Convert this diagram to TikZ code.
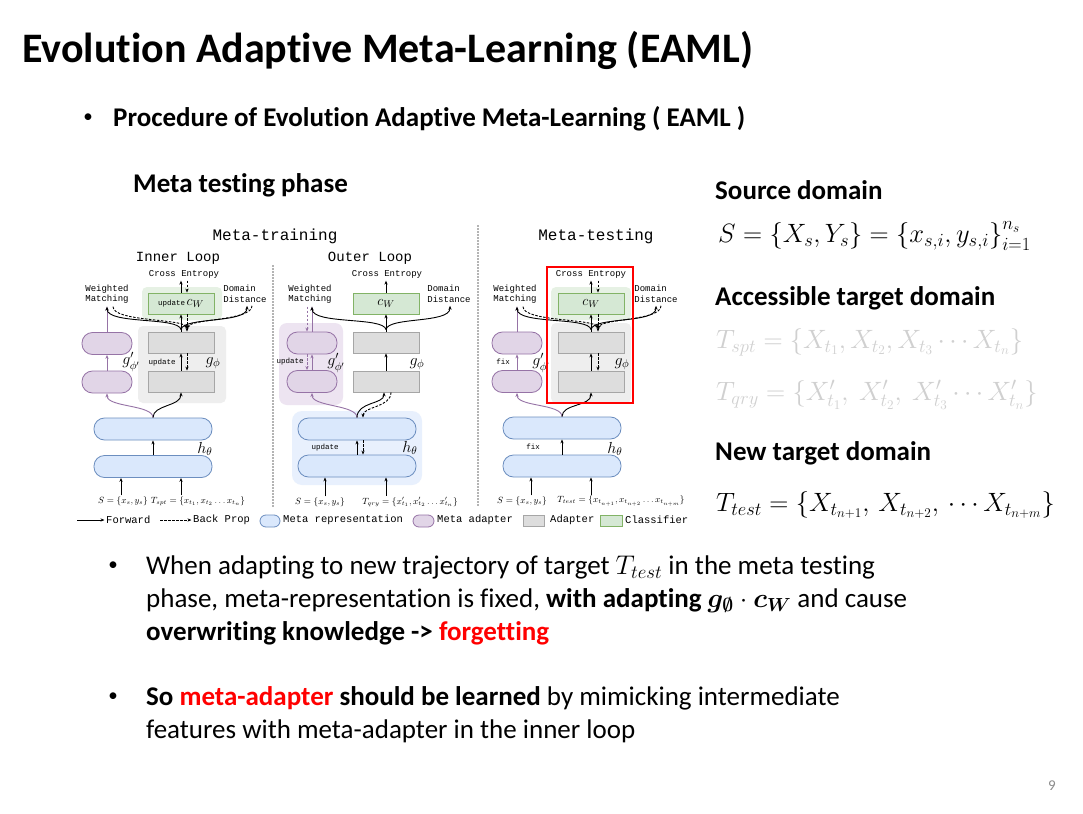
\RequirePackage{fix-cm}
\documentclass[tikz,border=0pt]{standalone}
\usepackage{amsmath,bm}
\usepackage{fontspec}
\setmainfont{Carlito}[Ligatures=NoCommon]
\newfontfamily\monof{Liberation Mono}
\usetikzlibrary{arrows.meta}
\definecolor{blueF}{HTML}{DAE8FC}
\definecolor{blueD}{HTML}{6C8EBF}
\definecolor{purpF}{HTML}{E1D5E7}
\definecolor{purpD}{HTML}{9673A6}
\definecolor{grayF}{HTML}{DDDDDD}
\definecolor{grayD}{HTML}{A6A6A6}
\definecolor{greenF}{HTML}{D5E8D4}
\definecolor{greenD}{HTML}{82B366}
\definecolor{bgGray}{HTML}{EEEEEE}
\definecolor{bgGreen}{HTML}{E6F1E4}
\definecolor{bgPurp}{HTML}{EDE4F1}
\definecolor{bgBlue}{HTML}{E8F0FD}
\definecolor{lightT}{HTML}{D0D0D0}
\definecolor{sepC}{HTML}{B4B4B4}
\definecolor{pnum}{HTML}{8C8C8C}
\tikzset{
  pill/.style={rectangle, rounded corners=10.5pt, minimum height=22pt, inner sep=0pt, line width=0.8pt},
  bluepill/.style={pill, fill=blueF, draw=blueD, minimum width=118pt},
  purppill/.style={pill, fill=purpF, draw=purpD, minimum width=50pt},
  adbox/.style={rectangle, fill=grayF, draw=grayD, line width=0.8pt, minimum width=66pt, minimum height=21pt, inner sep=0pt},
  clbox/.style={adbox, fill=greenF, draw=greenD},
  fwd/.style={-{Stealth[length=4pt,width=3.2pt]}, line width=0.9pt},
  bwd/.style={fwd, dash pattern=on 2.5pt off 1.5pt},
  pfwd/.style={fwd, draw=purpD},
  pbwd/.style={bwd, draw=purpD},
  mono/.style={font=\monof\fontsize{9}{10.5}\selectfont, inner sep=0pt, align=left},
  monos/.style={font=\monof\fontsize{7.5}{9}\selectfont, inner sep=0pt},
  monoL/.style={font=\monof\fontsize{16}{18}\selectfont, inner sep=0pt},
  loopT/.style={font=\monof\fontsize{14}{16}\selectfont, inner sep=0pt},
  legend/.style={font=\monof\fontsize{10.5}{12}\selectfont, inner sep=0pt, anchor=west},
  glab/.style={font=\fontsize{16}{18}\selectfont, inner sep=0pt},
  inlab/.style={font=\fontsize{9}{11}\selectfont, inner sep=0pt},
  body/.style={font=\fontsize{27}{32}\selectfont, inner sep=0pt, anchor=base west},
  bodyb/.style={font=\bfseries\fontsize{27}{32}\selectfont, inner sep=0pt, anchor=base west},
  bul/.style={font=\fontsize{19}{22}\selectfont, inner sep=0pt},
  rmath/.style={font=\fontsize{26.5}{30}\selectfont, inner sep=0pt, anchor=west},
  sep/.style={draw=sepC, line width=1.5pt, dash pattern=on 1.5pt off 1.5pt},
}
\begin{document}
\begin{tikzpicture}[x=1pt,y=-1pt]
\useasboundingbox (0,0) rectangle (1083,813);
\fill[white] (0,0) rectangle (1083,813);

% ---------- slide text ----------
\node[font=\bfseries\fontsize{42}{48}\selectfont, inner sep=0pt, anchor=base west] (title) at (22,63) {Evolution Adaptive Meta-Learning (EAML)};
\node[bul] (b0) at (88,118) {•};
\node[bodyb] (proc) at (113,127) {Procedure of Evolution Adaptive Meta-Learning ( EAML )};
\node[bodyb] (mtp) at (133,193) {Meta testing phase};

\node[bodyb] (src) at (715,200) {Source domain};
\node[rmath] (smath) at (718,236) {$S=\{X_s,Y_s\}=\left\{x_{s,i},y_{s,i}\right\}_{i=1}^{n_s}$};
\node[bodyb] (acc) at (715,305) {Accessible target domain};
\node[rmath, text=lightT] (tspt) at (716,342) {$T_{spt}=\{X_{t_1},X_{t_2},X_{t_3}\cdots X_{t_n}\}$};
\node[rmath, text=lightT] (tqry) at (716,395) {$T_{qry}=\{X'_{t_1},\ X'_{t_2},\ X'_{t_3}\cdots X'_{t_n}\}$};
\node[bodyb] (newt) at (715,460) {New target domain};
\node[rmath] (ttest) at (716,505) {$T_{test}=\{X_{t_{n+1}},\,X_{t_{n+2}},\,\cdots X_{t_{n+m}}\}$};

\node[bul] (b1) at (113,566) {•};
\node[body] (l1) at (146,574) {When adapting to new trajectory of target $T_{test}$ in the meta testing};
\node[body] (l2) at (146,607) {phase, meta-representation is fixed, \textbf{with adapting $\bm{g}_{\bm{\emptyset}}\cdot\bm{c}_{\bm{W}}$} and cause};
\node[bodyb] (l3) at (146,640) {overwriting knowledge -> \textcolor{red}{forgetting}};
\node[bul] (b2) at (113,697) {•};
\node[body] (l4) at (146,705) {\textbf{So \textcolor{red}{meta-adapter} should be learned} by mimicking intermediate};
\node[body] (l5) at (146,738) {features with meta-adapter in the inner loop};
\node[font=\fontsize{15}{17}\selectfont, text=pnum, inner sep=0pt] (pg) at (1052,786) {9};

% ---------- diagram headers ----------
\node[monoL] (mtr) at (275,236) {Meta-training};
\node[monoL] (mte) at (596,236) {Meta-testing};
\node[loopT] (inl) at (178,258) {Inner Loop};
\node[loopT] (oul) at (370,258) {Outer Loop};
\draw[sep] (273,265) -- (273,507);
\draw[sep] (478,225) -- (478,507);

% ---------- backgrounds ----------
\fill[bgGreen, rounded corners=5pt] (142,287) rectangle (222,320);
\fill[bgGray, rounded corners=5pt] (138,326) rectangle (226,403);
\fill[bgPurp, rounded corners=8pt] (279,323) rectangle (343,405);
\fill[bgBlue, rounded corners=10pt] (292,411) rectangle (422,485);
\fill[bgGreen, rounded corners=5pt] (551,287) rectangle (631,320);
\fill[bgGray, rounded corners=5pt] (551,323) rectangle (631,403);

% ================= Inner loop =================
\node[clbox] (icl) at (181,303.5) {{\monof\fontsize{7.5}{9}\selectfont update}\,{\fontsize{14}{16}\selectfont$c_W$}};
\node[adbox] (ig1) at (181,342.5) {};
\node[adbox] (ig2) at (181,381.5) {};
\node[purppill] (ip1) at (107,343.5) {};
\node[purppill] (ip2) at (107,382) {};
\node[bluepill] (ib1) at (153,429) {};
\node[bluepill] (ib2) at (153,466.5) {};
\node[mono] (ice) at (184,274) {Cross Entropy};
\node[mono] (iwm) at (107,294) {Weighted\\Matching};
\node[mono] (idd) at (245,294) {Domain\\Distance};
\node[monos] (iup) at (162,363) {update};
\node[glab] (igp) at (131,362) {$g'_{\phi'}$};
\node[glab] (igf) at (213,363) {$g_\phi$};
\node[glab] (ih) at (205,449) {$h_\theta$};
\node[inlab] (iS) at (123,501) {$S=\{x_s,y_s\}$};
\node[inlab] (iT) at (198,501) {$T_{spt}=\{x_{t_1},x_{t_2}\ldots x_{t_n}\}$};

\draw[fwd] (ig1.north) -- (icl.south);
\draw[bwd] ([xshift=6pt]icl.south) -- ([xshift=6pt]ig1.north);
\draw[fwd] (icl.north) -- ([yshift=-2.5pt]icl.north |- ice.south);
\draw[bwd] ([xshift=6pt,yshift=-2.5pt]icl.north |- ice.south) -- ([xshift=6pt]icl.north);
\draw[fwd] (ig2.north) -- (ig1.south);
\draw[bwd] ([xshift=6pt]ig1.south) -- ([xshift=6pt]ig2.north);
\coordinate (ij) at ([yshift=2pt]ig1.north);
\coordinate (ijd) at ([xshift=6pt,yshift=3pt]ig1.north);
\coordinate (iwmT) at ([yshift=-3pt]iwm.south);
\coordinate (iddT) at ([yshift=-3pt]idd.south);
\draw[pfwd] (ip2.north) -- (ip1.south);
\draw[pfwd] (ip1.north) -- (ip1.north |- iwmT);
\draw[fwd] (ij) .. controls +(-2,-13) and +(0,18) .. (ip1.north |- iwmT);
\draw[fwd] (ij) .. controls +(2,-13) and +(0,18) .. ([xshift=2pt]iddT);
\draw[bwd] ([xshift=6pt]ip1.north |- iwmT) .. controls +(0,15) and +(-5,-10) .. (ijd);
\draw[bwd] ([xshift=7pt]iddT) .. controls +(0,15) and +(5,-10) .. (ijd);
\draw[pfwd] (ib1.north) .. controls +(0,-13) and +(0,14) .. (ip2.south);
\draw[fwd] (ib1.north) .. controls +(0,-13) and +(0,14) .. (ig2.south);
\draw[fwd] (ib2.north) -- (ib1.south);
\draw[fwd] ([xshift=-2pt,yshift=1pt]iS.north) -- ([xshift=-2pt]iS.north |- ib2.south);
\draw[fwd] ([yshift=1pt]ig2.south |- iT.north) -- (ig2.south |- ib2.south);

% ================= Outer loop =================
\node[clbox] (ocl) at (386,303.5) {\fontsize{14}{16}\selectfont$c_W$};
\node[adbox] (og1) at (386,342.5) {};
\node[adbox] (og2) at (386,381.5) {};
\node[purppill] (op1) at (312,343) {};
\node[purppill] (op2) at (312,381.5) {};
\node[bluepill] (ob1) at (357,429) {};
\node[bluepill] (ob2) at (357,466) {};
\node[mono] (oce) at (387,274) {Cross Entropy};
\node[mono] (owm) at (310,294) {Weighted\\Matching};
\node[mono] (odd) at (449,294) {Domain\\Distance};
\node[monos] (oup) at (290,362) {update};
\node[glab] (ogp) at (336,363) {$g'_{\phi'}$};
\node[glab] (ogf) at (417,364) {$g_\phi$};
\node[monos] (oup2) at (325,448) {update};
\node[glab] (oh) at (410,448) {$h_\theta$};
\node[inlab] (oS) at (320,502) {$S=\{x_s,y_s\}$};
\node[inlab] (oT) at (410,502) {$T_{qry}=\{x'_{t_1},x'_{t_2}\ldots x'_{t_n}\}$};

\draw[fwd] (og1.north) -- (ocl.south);
\draw[fwd] (ocl.north) -- ([yshift=-2.5pt]ocl.north |- oce.south);
\draw[fwd] (og2.north) -- (og1.south);
\coordinate (oj) at ([yshift=2pt]og1.north);
\coordinate (owmT) at ([yshift=-3pt]owm.south);
\coordinate (oddT) at ([yshift=-3pt]odd.south);
\draw[pfwd] (op1.north) -- (op1.north |- owmT);
\draw[pbwd] ([xshift=-5pt]op1.north |- owmT) -- ([xshift=-5pt]op1.north);
\draw[pfwd] (op2.north) -- (op1.south);
\draw[pbwd] ([xshift=-5pt]op1.south) -- ([xshift=-5pt]op2.north);
\draw[fwd] (oj) .. controls +(-2,-13) and +(0,18) .. (op1.north |- owmT);
\draw[fwd] (oj) .. controls +(2,-13) and +(0,18) .. ([xshift=1pt]oddT);
\draw[pfwd] (ob1.north) .. controls +(0,-13) and +(0,14) .. (op2.south);
\draw[fwd] (ob1.north) .. controls +(0,-16) and +(0,12) .. ([xshift=-2pt]og2.south);
\draw[bwd] ([xshift=5pt]og2.south) .. controls +(0,15) and +(0,-11) .. ([xshift=6pt]ob1.north);
\draw[fwd] (ob2.north) -- (ob1.south);
\draw[bwd] ([xshift=6pt]ob1.south) -- ([xshift=6pt]ob2.north);
\draw[fwd] ([xshift=5pt,yshift=1pt]oS.north) -- ([xshift=5pt]oS.north |- ob2.south);
\draw[fwd] ([yshift=1pt]og2.south |- oT.north) -- (og2.south |- ob2.south);

% ================= Meta-testing =================
\node[clbox] (tcl) at (591,303.5) {\fontsize{14}{16}\selectfont$c_W$};
\node[adbox] (tg1) at (591,342.5) {};
\node[adbox] (tg2) at (591,381.5) {};
\node[purppill] (tp1) at (517,343) {};
\node[purppill] (tp2) at (517,381.5) {};
\node[bluepill] (tb1) at (562,428) {};
\node[bluepill] (tb2) at (562,466) {};
\node[mono] (tce) at (591,274) {Cross Entropy};
\node[mono] (twm) at (515,294) {Weighted\\Matching};
\node[mono] (tdd) at (656,294) {Domain\\Distance};
\node[monos] (tfx) at (503,362) {fix};
\node[glab] (tgp) at (541,363) {$g'_{\phi'}$};
\node[glab] (tgf) at (622,364) {$g_\phi$};
\node[monos] (tfx2) at (533,447) {fix};
\node[glab] (th) at (615,449) {$h_\theta$};
\node[inlab] (tS) at (522,501) {$S=\{x_s,y_s\}$};
\node[inlab] (tT) at (621,501) {$T_{test}=\{x_{t_{n+1}},x_{t_{n+2}}\ldots x_{t_{n+m}}\}$};

\draw[fwd] (tg1.north) -- (tcl.south);
\draw[bwd] ([xshift=7pt]tcl.south) -- ([xshift=7pt]tg1.north);
\draw[fwd] (tcl.north) -- ([yshift=-2.5pt]tcl.north |- tce.south);
\draw[bwd] ([xshift=7pt,yshift=-2.5pt]tcl.north |- tce.south) -- ([xshift=7pt]tcl.north);
\draw[fwd] (tg2.north) -- (tg1.south);
\draw[bwd] ([xshift=7pt]tg1.south) -- ([xshift=7pt]tg2.north);
\coordinate (tj) at ([yshift=2pt]tg1.north);
\coordinate (tjd) at ([xshift=7pt,yshift=3pt]tg1.north);
\coordinate (twmT) at ([yshift=-3pt]twm.south);
\coordinate (tddT) at ([yshift=-3pt]tdd.south);
\draw[pfwd] (tp2.north) -- (tp1.south);
\draw[pfwd] (tp1.north) -- (tp1.north |- twmT);
\draw[fwd] (tj) .. controls +(-2,-13) and +(0,18) .. (tp1.north |- twmT);
\draw[fwd] (tj) .. controls +(2,-13) and +(0,18) .. (tddT);
\draw[bwd] ([xshift=6pt]tp1.north |- twmT) .. controls +(0,15) and +(-5,-10) .. (tjd);
\draw[bwd] ([xshift=5pt]tddT) .. controls +(0,15) and +(5,-10) .. (tjd);
\draw[pfwd] (tb1.north) .. controls +(0,-13) and +(0,14) .. (tp2.south);
\draw[fwd] (tb1.north) .. controls +(0,-13) and +(0,14) .. (tg2.south);
\draw[fwd] (tb2.north) -- (tb1.south);
\draw[fwd] ([xshift=9pt,yshift=1pt]tS.north) -- ([xshift=9pt]tS.north |- tb2.south);
\draw[fwd] ([yshift=1pt]tg2.south |- tT.north) -- (tg2.south |- tb2.south);

\draw[red, line width=2.5pt] (547,267) rectangle (633,403);

% ================= Legend =================
\coordinate (lf0) at (77,520);
\node[legend] (lf) at (106,520) {Forward};
\draw[fwd] (lf0) -- ([xshift=-1.5pt]lf.west);
\coordinate (lb0) at (160,520);
\node[legend] (lb) at (193,520) {Back Prop};
\draw[bwd] (lb0) -- ([xshift=-1.5pt]lb.west);
\node[pill, fill=blueF, draw=blueD, minimum width=20pt, minimum height=12pt, rounded corners=6pt] (lbp) at (270,521) {};
\node[legend] (lbt) at (283,520) {Meta representation};
\node[pill, fill=purpF, draw=purpD, minimum width=21pt, minimum height=12pt, rounded corners=6pt] (lpp) at (423.5,521) {};
\node[legend] (lpt) at (437,520) {Meta adapter};
\node[adbox, minimum width=21pt, minimum height=11pt] (lgr) at (533.5,520.5) {};
\node[legend] (lgt) at (550,520) {Adapter};
\node[clbox, minimum width=22pt, minimum height=11pt] (lgn) at (611,520.5) {};
\node[legend] (lgnt) at (625,520) {Classifier};
\end{tikzpicture}
\end{document}
